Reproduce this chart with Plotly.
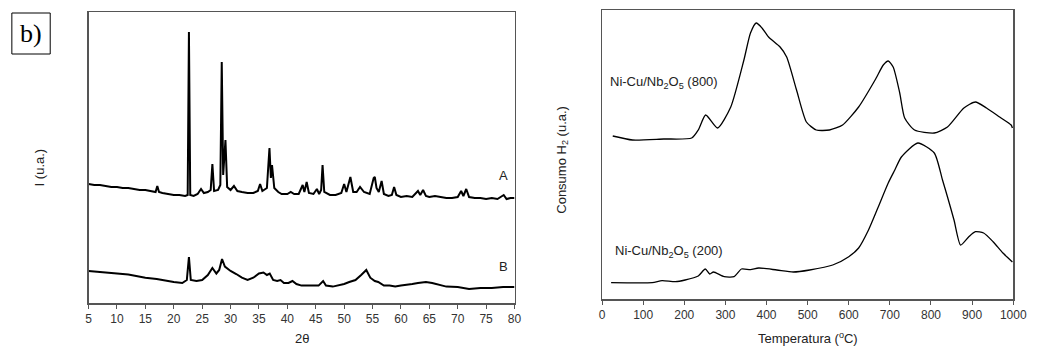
import plotly.graph_objects as go

# ---------------- data ----------------
# XRD (left panel), intensity in arbitrary units
xrd_theta_A = [5, 6, 7, 8, 9, 10, 11, 12, 13, 14, 15, 16, 16.8, 17.1, 17.4, 18, 19, 20, 21, 22,
               22.45, 22.67, 22.9, 23.5, 24.2, 24.8, 25.3, 26, 26.5, 26.8, 27.1, 27.8, 28.2, 28.45,
               28.7, 29.1, 29.4, 30, 30.6, 31.2, 32, 33, 34, 34.8, 35.2, 35.6, 36.4, 36.85, 37.1,
               37.3, 37.7, 38.4, 39, 40, 40.6, 41.2, 42, 42.7, 43, 43.4, 43.8, 44.6, 45.2, 45.6,
               45.95, 46.2, 46.5, 47.5, 48.5, 49.5, 50.0, 50.4, 51.1, 51.6, 52.2, 52.8, 53.5, 54.5,
               55.2, 55.4, 55.7, 56.1, 56.6, 57, 57.8, 58.4, 58.8, 59.2, 60, 61, 62, 63, 63.4, 63.9,
               64.4, 65, 66, 67, 68, 69, 70, 70.6, 71, 71.5, 72, 73, 74, 75, 76, 77, 78.1, 78.6,
               79.3, 80]
xrd_int_A = [119, 118, 118, 117, 116, 116, 115, 115, 114, 113, 113, 112, 111, 117, 111, 110, 109, 108, 108, 107,
             108, 271, 108, 107, 109, 114, 110, 111, 113, 139, 112, 113, 118, 241,
             128, 163, 116, 113, 117, 112, 111, 110, 110, 112, 119, 112, 115, 155, 125,
             138, 115, 111, 109, 109, 111, 109, 109, 118, 111, 121, 110, 109, 114, 109,
             113, 138, 111, 108, 108, 110, 119, 111, 126, 111, 111, 116, 111, 109,
             125, 126, 115, 111, 122, 109, 107, 108, 116, 108, 106, 107, 106, 112, 108, 113,
             107, 106, 107, 106, 105, 105, 106, 112, 107, 114, 106, 105, 105, 104, 105, 104, 108, 104,
             105, 105]

xrd_theta_B = [5, 7, 10, 12, 15, 17, 20, 21.5, 22.3, 22.67, 23, 24, 25, 26, 26.8, 27.5, 28, 28.5, 29,
               30, 31, 32, 33, 34, 35, 35.8, 36.4, 36.9, 37.5, 38.2, 38.8, 39.4, 40.2, 40.9, 41.6,
               42.5, 44, 45.5, 46.3, 46.8, 48, 49, 50, 50.9, 52, 53, 53.9, 54.6, 55.4, 56, 57, 58,
               59, 60, 61, 62, 63, 64.4, 65.5, 67, 68, 70, 72, 74, 76, 78, 80]
xrd_int_B = [32, 31, 29.5, 28.5, 25.3, 24, 21, 20, 23, 46, 23, 22, 23, 28, 35, 29.5, 33, 44, 36.4,
             32, 29, 25.3, 23, 25.3, 29.5, 30.5, 28, 29.5, 23, 22, 23, 20, 20, 22, 19,
             17.4, 17.4, 17.4, 22, 17.4, 16.4, 17.4, 19, 21, 23, 28, 33, 25.3, 22, 21, 17.4, 17.4,
             16.4, 17.4, 18, 19, 20, 21, 20, 17.4, 16.4, 16, 14, 15, 15, 16, 16]

xrd_ticks = [5, 10, 15, 20, 25, 30, 35, 40, 45, 50, 55, 60, 65, 70, 75, 80]

# TPR (right panel), H2 consumption in arbitrary units
tpr_T_800 = [26, 74, 150, 218, 234, 252, 281, 313, 345, 361, 375, 389, 405, 433, 449, 473, 497,
             521, 553, 585, 624, 664, 684, 696, 708, 724, 736, 760, 808, 840, 880, 908, 935,
             967, 995, 998]
tpr_H2_800 = [163, 159, 160, 161, 169, 184, 171, 192, 239, 266, 276, 271, 262, 252, 242, 209, 177,
              169, 169, 174, 192, 219, 234, 238, 232, 206, 181, 169, 166, 172, 191, 197, 191,
              182, 174, 171]

tpr_T_200 = [22, 122, 146, 178, 202, 234, 251, 262, 271, 297, 321, 339, 361, 381, 425, 465, 505,
             561, 600, 624, 648, 672, 696, 712, 728, 768, 808, 828, 840, 856, 872, 892, 908,
             928, 951, 975, 998]
tpr_H2_200 = [16.3, 16.3, 18.3, 17.3, 19, 23, 30, 25, 27, 22.3, 22.3, 30, 29.3, 31, 29, 27, 29,
              34, 42.3, 51, 69, 92.3, 116, 129, 142, 156, 146, 119, 102.3, 79, 54, 62.3, 67.3,
              66, 57.3, 46, 37]

tpr_ticks = [0, 100, 200, 300, 400, 500, 600, 700, 800, 900, 1000]

# ---------------- figure ----------------
W, H = 1041, 347
fig = go.Figure()

line_style = dict(color="black", width=2)
fig.add_trace(go.Scatter(x=xrd_theta_A, y=xrd_int_A, mode="lines", line=line_style,
                         xaxis="x", yaxis="y", showlegend=False, hoverinfo="skip"))
fig.add_trace(go.Scatter(x=xrd_theta_B, y=xrd_int_B, mode="lines", line=line_style,
                         xaxis="x", yaxis="y", showlegend=False, hoverinfo="skip"))
tpr_line = dict(color="black", width=1.3, shape="spline", smoothing=0.6)
fig.add_trace(go.Scatter(x=tpr_T_800, y=tpr_H2_800, mode="lines", line=tpr_line,
                         xaxis="x2", yaxis="y2", showlegend=False, hoverinfo="skip"))
fig.add_trace(go.Scatter(x=tpr_T_200, y=tpr_H2_200, mode="lines", line=tpr_line,
                         xaxis="x2", yaxis="y2", showlegend=False, hoverinfo="skip"))

def px_x(p):
    return p / W

def px_y(p):
    return 1 - p / H

axis_common = dict(showline=True, mirror=True, linecolor="#555555", linewidth=1.5,
                   showgrid=False, zeroline=False)
tickfont = dict(family="Liberation Sans, Arial", size=12, color="#333333")

fig.update_layout(
    width=W, height=H,
    margin=dict(l=0, r=0, t=0, b=0),
    paper_bgcolor="white", plot_bgcolor="white",
    hovermode=False,
    xaxis=dict(domain=[px_x(87), px_x(520)], range=[5, 80], tickmode="array",
               tickvals=xrd_ticks, ticks="outside", ticklen=4, tickcolor="#555555",
               tickfont=tickfont, anchor="y", **axis_common),
    yaxis=dict(domain=[px_y(303), px_y(12)], range=[0, 291], showticklabels=False,
               ticks="", anchor="x", **axis_common),
    xaxis2=dict(domain=[px_x(609), px_x(1027)], range=[0, 1000], tickmode="array",
                tickvals=tpr_ticks, ticks="outside", ticklen=4, tickcolor="#555555",
                tickfont=tickfont, anchor="y2", **axis_common),
    yaxis2=dict(domain=[px_y(299), px_y(10)], range=[0, 289], showticklabels=False,
                ticks="", anchor="x2", **axis_common),
)

lab_font = dict(family="Liberation Sans, Arial", size=13, color="#222222")
ann = [
    dict(x=px_x(303.5), y=px_y(338), text="2θ", font=lab_font),
    dict(x=px_x(818), y=px_y(338), text="Temperatura (<sup>o</sup>C)", font=lab_font),
    dict(x=px_x(37), y=px_y(167), text="I (u.a.)", textangle=-90, font=lab_font),
    dict(x=px_x(568), y=px_y(160), text="Consumo H<sub>2</sub> (u.a.)", textangle=-90, font=lab_font),
    dict(x=px_x(509), y=px_y(175), text="A", font=lab_font),
    dict(x=px_x(509), y=px_y(266), text="B", font=lab_font),
    dict(x=px_x(615), y=px_y(82), text="Ni-Cu/Nb<sub>2</sub>O<sub>5</sub> (800)", font=lab_font,
         xanchor="left"),
    dict(x=px_x(620), y=px_y(251), text="Ni-Cu/Nb<sub>2</sub>O<sub>5</sub> (200)", font=lab_font,
         xanchor="left"),
    dict(x=px_x(28.5), y=px_y(33), text="b)",
         font=dict(family="Liberation Serif, Times New Roman", size=26, color="black")),
]
for a in ann:
    a.setdefault("xanchor", "center")
    a.update(xref="paper", yref="paper", yanchor="middle", showarrow=False)
fig.update_layout(annotations=ann)

fig.add_shape(type="rect", xref="paper", yref="paper",
              x0=px_x(9), x1=px_x(48), y0=px_y(54), y1=px_y(13),
              line=dict(color="black", width=1), fillcolor="rgba(0,0,0,0)")

page_fix = (
    "var d=document.documentElement,b=document.body;"
    "d.style.margin='0';d.style.padding='0';d.style.overflow='hidden';"
    "d.style.width='1041px';d.style.height='347px';"
    "b.style.margin='0';b.style.padding='0';b.style.overflow='hidden';"
    "b.style.width='1041px';b.style.height='347px';"
)
fig.write_html("out.html", config={"displayModeBar": False, "staticPlot": True},
               post_script=page_fix)
